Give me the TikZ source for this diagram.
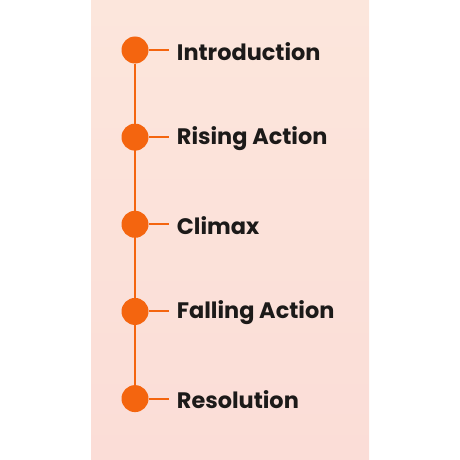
\documentclass[tikz,border=0pt]{standalone}
\usepackage{fontspec}
\setmainfont{Poppins}[BoldFont={* Bold}]
\usepackage{xcolor}
\usetikzlibrary{positioning}

\definecolor{stageorange}{HTML}{F4650F}
\definecolor{paneltop}{HTML}{FCE6DC}
\definecolor{panelbottom}{HTML}{FBDDD7}
\definecolor{stagetext}{HTML}{1C1A19}

\tikzset{
  dot/.style={circle, fill=stageorange, minimum size=27pt, inner sep=0pt},
  stage/.style={inner sep=0pt, anchor=west, yshift=-1.5pt, font=\fontsize{22.4}{24}\selectfont\bfseries, text=stagetext},
  link/.style={draw=stageorange, line width=2pt}
}

\begin{document}
\begin{tikzpicture}[x=1pt, y=-1pt, node distance=59.75pt]
    \useasboundingbox (0,0) rectangle (460,460);
    \shade[top color=paneltop, bottom color=panelbottom] (91,0) rectangle (369,460);

    \node[dot] (d1) at (135,50) {};
    \node[dot, below=of d1] (d2) {};
    \node[dot, below=of d2] (d3) {};
    \node[dot, below=of d3] (d4) {};
    \node[dot, below=of d4] (d5) {};

    \node[stage, right=28pt of d1] (s1) {Introduction};
    \node[stage, right=28pt of d2] (s2) {Rising Action};
    \node[stage, right=28pt of d3] (s3) {Climax};
    \node[stage, right=28pt of d4] (s4) {Falling Action};
    \node[stage, right=28pt of d5] (s5) {Resolution};

    \draw[link] (d1) -- (d5);
    \foreach \i in {1,...,5}
        \draw[link, shorten >=8pt] (d\i) -- (d\i -| s\i.west);
\end{tikzpicture}
\end{document}
